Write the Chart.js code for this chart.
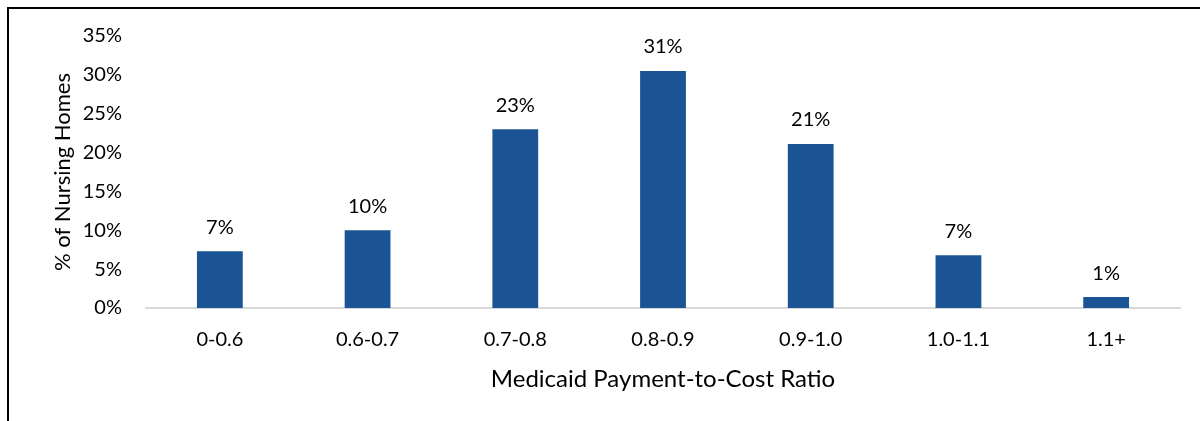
<!DOCTYPE html>
<html lang="en">
<head>
    <meta charset="UTF-8">
    <title>Medicaid Payment-to-Cost Ratio</title>
    <script src="https://cdn.jsdelivr.net/npm/chart.js"></script>
    <style>
        body {
            margin: 0;
            padding: 0;
            background: #ffffff;
            font-family: Lato, Arial, sans-serif;
        }

        /* chart frame - only top and left edges show in the picture */
        .frame {
            position: absolute;
            left: 7px;
            top: 7px;
            width: 1193px;
            height: 414px;
            border-top: 2px solid #000;
            border-left: 2px solid #000;
            box-sizing: border-box;
        }

        .chart-container {
            position: absolute;
            left: 0;
            top: 0;
            width: 1200px;
            height: 421px;
        }
    </style>
</head>
<body>
    <div class="chart-container">
        <canvas id="barChart"></canvas>
    </div>
    <div class="frame"></div>

    <script>
        // data
        const ratioBands = ['0-0.6', '0.6-0.7', '0.7-0.8', '0.8-0.9', '0.9-1.0', '1.0-1.1', '1.1+'];
        const sharePct = [7.3, 10.0, 23.0, 30.5, 21.1, 6.8, 1.4];
        const yTicks = [0, 5, 10, 15, 20, 25, 30, 35];

        const barColor = '#1b5494';
        const textColor = '#000000';
        const fontFamily = 'Lato, "Liberation Sans", Arial, sans-serif';

        // value labels above each bar
        const valueLabels = {
            id: 'valueLabels',
            afterDatasetsDraw(chart) {
                const ctx = chart.ctx;
                const meta = chart.getDatasetMeta(0);
                ctx.save();
                ctx.font = '20px ' + fontFamily;
                ctx.fillStyle = textColor;
                ctx.textAlign = 'center';
                ctx.textBaseline = 'middle';
                meta.data.forEach((bar, i) => {
                    ctx.fillText(Math.round(sharePct[i]) + '%', bar.x, bar.y - 24);
                });
                ctx.restore();
            }
        };

        const ctx = document.getElementById('barChart').getContext('2d');
        new Chart(ctx, {
            type: 'bar',
            data: {
                labels: ratioBands,
                datasets: [{
                    data: sharePct,
                    backgroundColor: barColor,
                    borderWidth: 0,
                    categoryPercentage: 1.0,
                    barPercentage: 0.31
                }]
            },
            options: {
                responsive: true,
                maintainAspectRatio: false,
                animation: false,
                layout: {
                    padding: { left: 50, right: 20, top: 31, bottom: 27 }
                },
                plugins: {
                    legend: { display: false },
                    tooltip: { enabled: false }
                },
                scales: {
                    x: {
                        afterFit(axis) {
                            axis.height = 86;
                        },
                        grid: { display: false, drawTicks: false },
                        border: { display: true, color: '#d9d9d9', width: 2 },
                        ticks: {
                            color: textColor,
                            font: { family: fontFamily, size: 20 },
                            padding: 20
                        },
                        title: {
                            display: true,
                            text: 'Medicaid Payment-to-Cost Ratio',
                            color: textColor,
                            font: { family: fontFamily, size: 24 },
                            padding: { top: 0, bottom: 0 }
                        }
                    },
                    y: {
                        min: 0,
                        max: 35,
                        afterBuildTicks(axis) {
                            axis.ticks = yTicks.map(v => ({ value: v }));
                        },
                        afterFit(axis) {
                            axis.width = 96;
                        },
                        grid: { display: false, drawTicks: false },
                        border: { display: false },
                        ticks: {
                            color: textColor,
                            font: { family: fontFamily, size: 20 },
                            padding: 24,
                            callback: v => v + '%'
                        },
                        title: {
                            display: true,
                            text: '% of Nursing Homes',
                            color: textColor,
                            font: { family: fontFamily, size: 22 },
                            padding: { top: 0, bottom: 0 }
                        }
                    }
                }
            },
            plugins: [valueLabels]
        });
    </script>
</body>
</html>
